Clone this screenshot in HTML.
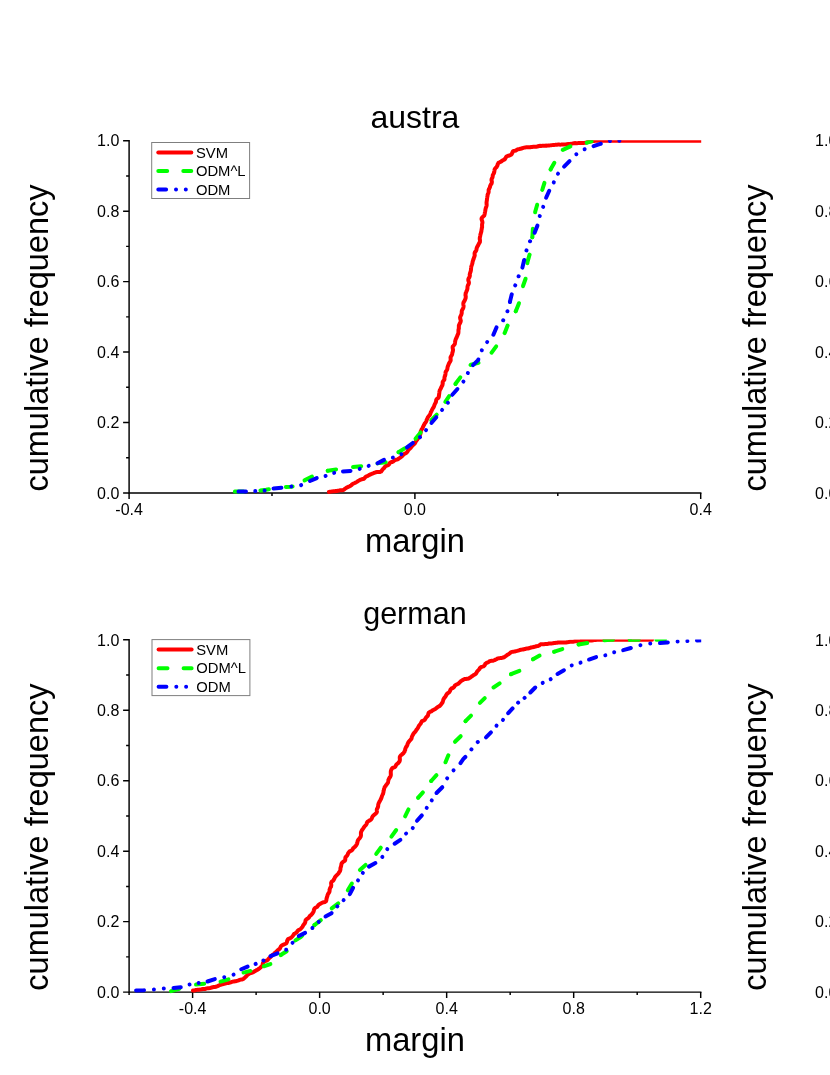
<!DOCTYPE html>
<html><head><meta charset="utf-8"><title>margin distribution</title>
<style>
html,body{margin:0;padding:0;background:#fff;}
body{width:830px;height:1075px;overflow:hidden;font-family:"Liberation Sans",sans-serif;}
svg{display:block;font-family:"Liberation Sans",sans-serif;will-change:transform;}
</style></head><body>
<svg width="830" height="1075" viewBox="0 0 830 1075">
<rect width="830" height="1075" fill="#fff"/>
<defs>
<clipPath id="c1"><rect x="129.10" y="140.30" width="572.10" height="356.30"/></clipPath>
<clipPath id="c2"><rect x="129.10" y="639.60" width="572.10" height="356.30"/></clipPath>
</defs>
<!-- plot 1: austra -->
<g stroke="#000" stroke-width="1.45" fill="none" stroke-linecap="butt">
<path d="M129.10,139.97 V493.73 M128.38,493.00 H701.43"/>
<path d="M129.10,493.00 h-6.00 M129.10,457.77 h-3.00 M129.10,422.54 h-6.00 M129.10,387.31 h-3.00 M129.10,352.08 h-6.00 M129.10,316.85 h-3.00 M129.10,281.62 h-6.00 M129.10,246.39 h-3.00 M129.10,211.16 h-6.00 M129.10,175.93 h-3.00 M129.10,140.70 h-6.00 M129.10,493.00 v6.00 M272.00,493.00 v3.00 M414.90,493.00 v6.00 M557.80,493.00 v3.00 M700.70,493.00 v6.00 "/>
</g>
<g font-size="16px" fill="#000">
<text x="119.30" y="498.73" text-anchor="end">0.0</text>
<text x="119.30" y="428.27" text-anchor="end">0.2</text>
<text x="119.30" y="357.81" text-anchor="end">0.4</text>
<text x="119.30" y="287.35" text-anchor="end">0.6</text>
<text x="119.30" y="216.89" text-anchor="end">0.8</text>
<text x="119.30" y="146.43" text-anchor="end">1.0</text>
<text x="129.10" y="515.00" text-anchor="middle">-0.4</text>
<text x="414.90" y="515.00" text-anchor="middle">0.0</text>
<text x="700.70" y="515.00" text-anchor="middle">0.4</text>
</g>
<g clip-path="url(#c1)" fill="none" stroke-width="4.0" stroke-linejoin="round">
<polyline points="328.90,491.90 329.89,491.77 330.88,491.62 331.86,491.42 332.86,491.32 333.85,491.16 334.86,491.16 335.85,491.00 336.85,490.99 337.83,490.78 338.83,490.64 339.80,490.35 340.80,490.27 341.79,490.17 342.80,490.15 343.73,489.86 344.42,489.24 345.17,488.61 346.05,488.10 346.93,487.59 347.77,487.05 348.69,486.66 349.60,486.31 350.48,485.85 351.29,485.22 352.03,484.48 352.85,483.89 353.72,483.38 354.66,483.03 355.58,482.63 356.44,482.10 357.28,481.54 358.11,480.98 359.00,480.54 359.86,480.07 360.75,479.63 361.71,479.28 362.77,479.08 363.76,478.79 364.56,478.18 365.20,477.32 365.95,476.62 366.86,476.20 367.85,475.89 368.68,475.33 369.56,474.85 370.47,474.42 371.38,474.10 372.17,473.63 373.10,473.29 374.04,472.90 374.99,472.55 375.95,472.24 376.94,472.10 377.95,472.04 378.97,472.04 380.08,472.04 381.11,471.56 381.69,470.66 382.33,469.88 382.93,469.08 383.69,468.42 384.33,467.64 384.95,466.85 385.63,466.13 386.43,465.62 387.43,465.47 388.34,465.04 389.08,464.32 389.63,463.25 390.35,462.47 391.27,462.07 392.34,461.93 393.25,461.52 394.03,460.85 394.79,460.16 395.73,459.80 396.76,459.60 397.73,459.28 398.59,458.77 399.39,458.14 400.25,457.63 401.05,457.02 401.85,456.41 402.53,455.67 403.20,454.92 403.87,454.18 404.74,453.64 405.64,453.14 406.55,452.65 407.25,451.93 407.76,451.01 408.29,450.11 408.94,449.34 409.74,448.73 410.49,448.08 411.06,447.25 411.68,446.46 412.29,445.67 413.10,445.04 413.80,444.32 414.63,443.70 415.13,442.82 415.64,441.94 416.08,441.01 416.71,440.24 417.32,439.44 417.87,438.60 418.37,437.73 418.90,436.95 419.30,436.09 419.81,435.21 420.27,434.32 420.46,433.32 420.67,432.34 420.71,431.29 421.16,430.39 421.58,429.47 422.33,428.68 422.68,427.74 423.06,426.81 423.49,425.90 423.98,425.02 424.39,424.17 424.79,423.31 425.49,422.57 425.99,421.70 426.46,420.81 426.70,419.77 427.19,418.90 427.58,417.95 428.06,417.07 428.61,416.24 429.38,415.55 430.00,414.75 430.28,413.77 430.63,412.83 430.95,411.88 431.52,411.03 431.88,410.10 432.36,409.22 432.83,408.33 433.45,407.51 433.92,406.63 434.25,405.68 434.56,404.73 434.95,403.82 435.46,402.95 435.88,402.04 436.06,401.02 436.22,399.98 436.67,399.09 437.62,398.44 438.43,397.72 438.82,396.80 438.91,395.72 439.05,394.69 439.19,393.69 439.35,392.70 439.40,391.67 439.67,390.71 440.00,389.76 440.57,388.88 440.96,387.96 441.46,387.06 441.79,386.11 442.38,385.25 442.60,384.27 442.77,383.28 442.60,382.18 443.11,381.29 443.74,380.44 444.41,379.60 444.41,378.55 444.52,377.54 444.67,376.54 445.17,375.65 445.37,374.66 445.51,373.65 445.53,372.61 445.79,371.64 446.37,370.78 446.95,369.91 447.35,368.99 447.45,367.97 447.61,366.97 447.96,366.04 448.32,365.10 448.74,364.18 449.08,363.24 449.66,362.38 450.15,361.48 450.66,360.59 450.65,359.54 450.60,358.47 450.50,357.39 450.96,356.49 451.50,355.61 452.00,354.72 452.26,353.75 452.34,352.73 452.71,351.80 452.88,350.80 453.08,349.82 452.74,348.66 452.63,347.58 452.70,346.55 453.43,345.75 454.13,344.92 454.75,344.05 454.95,343.06 455.07,342.06 455.23,341.07 455.44,340.09 455.79,339.15 456.20,338.22 456.69,337.31 457.02,336.37 457.46,335.45 457.77,334.49 458.27,333.58 458.41,332.57 458.46,331.55 458.45,330.53 458.53,329.52 458.87,328.57 458.83,327.53 458.88,326.52 458.87,325.49 459.25,324.55 459.69,323.62 460.22,322.72 460.64,321.79 460.80,320.80 460.52,319.71 460.23,318.62 460.07,317.56 460.37,316.61 460.74,315.67 461.29,314.76 461.56,313.79 461.73,312.81 461.71,311.78 461.84,310.79 462.25,309.85 462.75,308.93 463.30,308.02 463.47,307.04 463.60,306.04 463.44,304.99 463.31,303.94 463.40,302.94 463.74,301.98 464.38,301.10 464.82,300.17 465.22,299.23 465.60,298.28 465.71,297.28 465.75,296.27 465.47,295.19 465.57,294.19 465.68,293.19 466.13,292.26 466.48,291.31 466.94,290.39 467.26,289.43 467.45,288.45 467.48,287.43 467.55,286.43 467.83,285.46 468.35,284.55 468.82,283.62 468.94,282.62 468.74,281.56 468.32,280.46 468.33,279.45 468.56,278.47 469.28,277.59 469.61,276.63 469.86,275.66 469.71,274.62 469.92,273.64 470.19,272.67 470.60,271.74 470.79,270.76 470.97,269.78 471.01,268.76 471.14,267.76 471.23,266.75 471.54,265.79 471.89,264.85 472.22,263.90 472.45,262.93 472.57,261.93 472.84,260.96 473.19,260.02 473.55,259.08 473.83,258.12 474.15,257.17 474.51,256.24 474.75,255.27 474.59,254.17 474.59,253.13 474.95,252.19 475.67,251.37 476.24,250.49 476.49,249.52 476.59,248.51 476.91,247.56 477.29,246.63 477.91,245.78 478.21,244.84 478.82,243.99 479.18,243.06 479.84,242.23 479.96,241.21 479.98,240.16 479.75,239.02 479.79,237.97 479.96,237.02 480.18,236.11 480.32,235.12 480.61,234.15 480.85,233.16 481.16,232.19 481.40,231.21 481.45,230.21 481.68,229.23 481.77,228.23 482.11,227.26 482.07,226.26 482.06,225.27 482.08,224.26 482.34,223.30 482.46,222.30 482.24,221.21 481.80,220.07 481.53,218.97 481.73,217.99 482.47,217.14 483.38,216.34 484.21,215.51 484.54,214.57 484.77,213.59 484.88,212.59 485.11,211.62 485.31,210.64 485.42,209.64 485.64,208.67 485.87,207.69 486.28,206.75 486.57,205.78 486.65,204.78 486.61,203.76 486.52,202.73 486.64,201.73 486.80,200.74 486.94,199.75 487.00,198.75 487.18,197.77 487.32,196.77 487.58,195.80 487.60,194.79 488.00,193.84 488.38,192.90 488.65,191.93 488.65,190.90 488.62,189.86 489.10,188.95 489.49,188.02 489.95,187.10 490.10,186.11 490.57,185.19 490.96,184.26 491.64,183.40 491.84,182.42 491.86,181.39 491.50,180.27 491.55,179.24 492.06,178.35 492.50,177.44 492.67,176.44 492.73,175.40 493.12,174.48 493.66,173.61 494.08,172.69 494.30,171.71 494.45,170.70 494.56,169.68 495.02,168.74 495.65,167.90 496.53,167.25 496.94,166.34 497.46,165.48 497.62,164.42 498.17,163.59 498.58,162.61 499.66,162.30 500.53,161.84 501.47,161.45 502.14,160.63 503.03,160.17 503.90,159.67 504.86,159.28 505.40,158.33 505.90,157.37 506.44,156.47 507.40,156.05 508.43,155.71 509.53,155.45 510.46,155.01 511.31,154.60 511.90,153.78 512.40,152.67 512.85,151.50 513.67,150.92 514.75,150.77 515.80,150.57 516.63,150.00 517.46,149.40 518.47,149.16 519.47,149.00 520.45,148.79 521.41,148.50 522.38,148.26 523.30,147.87 524.25,147.60 525.23,147.43 526.23,147.37 527.23,147.34 528.24,147.36 529.24,147.30 530.24,147.20 531.22,147.03 532.22,146.92 533.21,146.81 534.21,146.76 535.22,146.73 536.22,146.70 537.21,146.53 538.18,146.22 539.16,145.96 540.16,145.84 541.17,145.88 542.16,145.83 543.16,145.79 544.16,145.66 545.16,145.69 546.16,145.62 547.16,145.63 548.16,145.53 549.16,145.48 550.16,145.38 551.15,145.25 552.14,145.12 553.14,144.99 554.14,144.91 555.13,144.85 556.13,144.76 557.13,144.65 558.12,144.59 559.13,144.59 560.13,144.64 561.13,144.59 562.13,144.50 563.13,144.44 564.13,144.45 565.14,144.44 566.13,144.32 567.12,144.14 568.11,144.01 569.11,143.94 570.11,143.90 571.11,143.84 572.10,143.61 573.08,143.36 574.07,143.15 575.07,143.11 576.08,143.17 577.08,143.14 578.08,143.07 579.07,142.94 580.07,142.94 581.08,142.97 582.10,143.02 583.10,142.97 584.10,142.89 585.08,142.70 586.06,142.43 587.03,142.12 588.01,141.92 589.00,141.82 589.99,141.64 590.97,141.42 591.95,141.20 592.95,141.09 593.95,140.98 594.94,140.84 595.94,140.74 596.94,140.69 597.94,140.63 598.94,140.61 599.94,140.56 600.95,140.70 601.95,140.70 602.95,140.70 603.95,140.70 604.95,140.70 605.95,140.70 606.95,140.70 607.95,140.70 608.95,140.70 609.95,140.70 610.96,140.70 611.96,140.70 612.96,140.70 613.96,140.70 614.96,140.70 615.96,140.70 616.96,140.70 617.96,140.70 618.96,140.70 619.96,140.70 620.96,140.70 621.96,140.70 622.96,140.70 623.96,140.70 624.96,140.70 625.96,140.70 626.96,140.70 627.96,140.70 628.96,140.70 629.96,140.70 630.97,140.70 631.97,140.70 632.97,140.70 633.97,140.70 634.97,140.70 635.97,140.70 636.97,140.70 637.97,140.70 638.97,140.70 639.97,140.70 640.97,140.70 641.97,140.70 642.97,140.70 643.97,140.70 644.97,140.70 645.97,140.70 646.97,140.70 647.97,140.70 648.97,140.70 649.97,140.70 650.98,140.70 651.98,140.70 652.98,140.70 653.98,140.70 654.98,140.70 655.98,140.70 656.98,140.70 657.98,140.70 658.98,140.70 659.98,140.70 660.98,140.70 661.98,140.70 662.98,140.70 663.98,140.70 664.98,140.70 665.98,140.70 666.98,140.70 667.98,140.70 668.98,140.70 669.98,140.70 670.98,140.70 671.99,140.70 672.99,140.70 673.99,140.70 674.99,140.70 675.99,140.70 676.99,140.70 677.99,140.70 678.99,140.70 679.99,140.70 680.99,140.70 681.99,140.70 682.99,140.70 683.99,140.70 684.99,140.70 685.99,140.70 686.99,140.70 687.99,140.70 688.99,140.70 689.99,140.70 690.99,140.70 692.00,140.70 693.00,140.70 694.00,140.70 695.00,140.70 696.00,140.70 697.00,140.70 698.00,140.70 699.00,140.70 700.00,140.70 701.00,140.70 702.00,140.70" stroke="#ff0000" stroke-linecap="round"/>
<polyline points="234.90,491.60 241.90,491.50 256.10,491.00 260.40,490.48" stroke="#00ff00" stroke-linecap="round" stroke-dasharray="8.5 17" pathLength="25.5"/>
<polyline points="260.40,490.48 266.00,489.80 283.40,487.10 285.90,486.97" stroke="#00ff00" stroke-linecap="round" stroke-dasharray="8.5 17" pathLength="25.5"/>
<polyline points="285.90,486.97 291.30,486.70 297.00,485.50 303.90,480.70 304.50,480.39" stroke="#00ff00" stroke-linecap="round" stroke-dasharray="8.5 17" pathLength="25.5"/>
<polyline points="304.50,480.39 313.30,475.90 326.00,470.90 327.70,470.65" stroke="#00ff00" stroke-linecap="round" stroke-dasharray="8.5 17" pathLength="25.5"/>
<polyline points="327.70,470.65 336.80,469.30 351.30,467.30 353.00,467.11" stroke="#00ff00" stroke-linecap="round" stroke-dasharray="8.5 17" pathLength="25.5"/>
<polyline points="353.00,467.11 362.10,466.10 376.60,463.50 377.50,463.38" stroke="#00ff00" stroke-linecap="round" stroke-dasharray="8.5 17" pathLength="25.5"/>
<polyline points="377.50,463.38 387.40,462.10 392.00,458.50 398.20,452.40 398.50,452.21" stroke="#00ff00" stroke-linecap="round" stroke-dasharray="8.5 17" pathLength="25.5"/>
<polyline points="398.50,452.21 406.20,447.30 415.40,438.90 415.50,438.78" stroke="#00ff00" stroke-linecap="round" stroke-dasharray="8.5 17" pathLength="25.5"/>
<polyline points="415.50,438.78 421.00,432.00 431.10,420.40 431.30,420.20" stroke="#00ff00" stroke-linecap="round" stroke-dasharray="8.5 17" pathLength="25.5"/>
<polyline points="431.30,420.20 437.30,414.10 445.30,401.90" stroke="#00ff00" stroke-linecap="round" stroke-dasharray="8.5 17" pathLength="25.5"/>
<polyline points="445.30,401.90 445.50,401.60 449.90,395.10 455.50,383.90" stroke="#00ff00" stroke-linecap="round" stroke-dasharray="8.5 17" pathLength="25.5"/>
<polyline points="455.50,383.90 455.70,383.50 461.40,376.00 466.00,369.00 470.50,364.97" stroke="#00ff00" stroke-linecap="round" stroke-dasharray="8.5 17" pathLength="25.5"/>
<polyline points="470.50,364.97 470.80,364.70 480.20,362.50 486.00,358.00 491.50,352.69" stroke="#00ff00" stroke-linecap="round" stroke-dasharray="8.5 17" pathLength="25.5"/>
<polyline points="491.50,352.69 491.80,352.40 497.10,345.20 504.60,333.12" stroke="#00ff00" stroke-linecap="round" stroke-dasharray="8.5 17" pathLength="25.5"/>
<polyline points="504.60,333.12 504.80,332.80 508.20,324.00 515.70,311.34" stroke="#00ff00" stroke-linecap="round" stroke-dasharray="8.5 17" pathLength="25.5"/>
<polyline points="515.70,311.34 515.90,311.00 519.90,300.90 523.00,286.18" stroke="#00ff00" stroke-linecap="round" stroke-dasharray="8.5 17" pathLength="25.5"/>
<polyline points="523.00,286.18 523.10,285.70 526.30,276.80 527.40,263.14" stroke="#00ff00" stroke-linecap="round" stroke-dasharray="8.5 17" pathLength="25.5"/>
<polyline points="527.40,263.14 527.50,261.90 530.40,251.70 532.30,237.17" stroke="#00ff00" stroke-linecap="round" stroke-dasharray="8.5 17" pathLength="25.5"/>
<polyline points="532.30,237.17 532.40,236.40 533.00,226.00 535.10,212.35" stroke="#00ff00" stroke-linecap="round" stroke-dasharray="8.5 17" pathLength="25.5"/>
<polyline points="535.10,212.35 535.20,211.70 538.10,201.60 542.20,189.87" stroke="#00ff00" stroke-linecap="round" stroke-dasharray="8.5 17" pathLength="25.5"/>
<polyline points="542.20,189.87 542.40,189.30 545.60,179.20 550.60,169.39" stroke="#00ff00" stroke-linecap="round" stroke-dasharray="8.5 17" pathLength="25.5"/>
<polyline points="550.60,169.39 550.80,169.00 555.70,160.40 562.70,149.95" stroke="#00ff00" stroke-linecap="round" stroke-dasharray="8.5 17" pathLength="25.5"/>
<polyline points="562.70,149.95 562.80,149.80 573.20,145.20 586.80,142.70" stroke="#00ff00" stroke-linecap="round" stroke-dasharray="8.5 17" pathLength="25.5"/>
<polyline points="586.80,142.70 586.80,142.70 591.50,141.30" stroke="#00ff00" stroke-linecap="round" stroke-dasharray="8.5 17"/>
<polyline points="238.50,491.60 245.90,491.50 256.10,491.00 266.00,490.40 272.60,488.60 273.50,488.52" stroke="#0000ff" stroke-linecap="round" stroke-dasharray="7.6 9.5 0.01 9.5 0.01 9.3" pathLength="35.92"/>
<polyline points="273.50,488.52 283.40,487.60 291.90,486.50 301.10,485.10 309.30,481.30 310.00,481.00" stroke="#0000ff" stroke-linecap="round" stroke-dasharray="7.6 9.5 0.01 9.5 0.01 9.3" pathLength="35.92"/>
<polyline points="310.00,481.00 317.30,477.90 325.20,476.10 332.80,473.10 341.90,471.50 343.00,471.42" stroke="#0000ff" stroke-linecap="round" stroke-dasharray="7.6 9.5 0.01 9.5 0.01 9.3" pathLength="35.92"/>
<polyline points="343.00,471.42 352.00,470.80 359.20,469.00 367.90,466.10 377.30,463.30 377.50,463.20" stroke="#0000ff" stroke-linecap="round" stroke-dasharray="7.6 9.5 0.01 9.5 0.01 9.3" pathLength="35.92"/>
<polyline points="377.50,463.20 384.50,459.60 393.20,457.50 402.20,453.90 406.90,447.30" stroke="#0000ff" stroke-linecap="round" stroke-dasharray="7.6 9.5 0.01 9.5 0.01 9.3" pathLength="35.92"/>
<polyline points="406.90,447.30 406.90,447.30 412.70,443.00 420.20,437.00 426.00,430.20 431.50,422.90" stroke="#0000ff" stroke-linecap="round" stroke-dasharray="7.6 9.5 0.01 9.5 0.01 9.3" pathLength="35.92"/>
<polyline points="431.50,422.90 431.80,422.50 436.10,417.50 441.60,410.50 447.40,403.70 452.00,395.10 452.30,394.76" stroke="#0000ff" stroke-linecap="round" stroke-dasharray="7.6 9.5 0.01 9.5 0.01 9.3" pathLength="35.92"/>
<polyline points="452.30,394.76 457.80,388.60 463.90,380.90 467.90,372.90 473.00,365.10" stroke="#0000ff" stroke-linecap="round" stroke-dasharray="7.6 9.5 0.01 9.5 0.01 9.3" pathLength="35.92"/>
<polyline points="473.00,365.10 473.00,365.10 478.10,360.10 482.00,349.80 486.70,342.60 493.30,335.00 493.40,334.76" stroke="#0000ff" stroke-linecap="round" stroke-dasharray="7.6 9.5 0.01 9.5 0.01 9.3" pathLength="35.92"/>
<polyline points="493.40,334.76 496.70,326.90 502.90,320.90 507.20,312.20 509.80,302.30 509.90,301.89" stroke="#0000ff" stroke-linecap="round" stroke-dasharray="7.6 9.5 0.01 9.5 0.01 9.3" pathLength="35.92"/>
<polyline points="509.90,301.89 511.90,293.70 515.20,285.40 518.40,276.80 522.40,267.60" stroke="#0000ff" stroke-linecap="round" stroke-dasharray="7.6 9.5 0.01 9.5 0.01 9.3" pathLength="35.92"/>
<polyline points="522.40,267.60 522.40,267.60 524.30,259.40 526.50,250.30 529.90,241.60 534.60,232.80" stroke="#0000ff" stroke-linecap="round" stroke-dasharray="7.6 9.5 0.01 9.5 0.01 9.3" pathLength="35.92"/>
<polyline points="534.60,232.80 534.60,232.80 537.60,225.20 539.50,216.70 542.80,208.10 546.00,198.00 546.10,197.78" stroke="#0000ff" stroke-linecap="round" stroke-dasharray="7.6 9.5 0.01 9.5 0.01 9.3" pathLength="35.92"/>
<polyline points="546.10,197.78 549.60,190.00 553.70,182.50 557.90,173.80 564.00,166.70 564.10,166.60" stroke="#0000ff" stroke-linecap="round" stroke-dasharray="7.6 9.5 0.01 9.5 0.01 9.3" pathLength="35.92"/>
<polyline points="564.10,166.60 569.70,160.90 575.30,154.90 583.90,149.50 593.60,146.20" stroke="#0000ff" stroke-linecap="round" stroke-dasharray="7.6 9.5 0.01 9.5 0.01 9.3" pathLength="35.92"/>
<polyline points="593.60,146.20 593.60,146.20 600.30,143.90 609.90,141.00 622.00,140.70" stroke="#0000ff" stroke-linecap="round" stroke-dasharray="7.6 9.5 0.01 9.5 0.01 9.3"/>
</g>
<text x="414.90" y="127.6" font-size="32px" text-anchor="middle">austra</text>
<text x="414.90" y="551.8" font-size="32.7px" text-anchor="middle">margin</text>
<text transform="translate(48.20,338.00) rotate(-90)" font-size="32.5px" text-anchor="middle">cumulative frequency</text>
<rect x="151.70" y="142.50" width="97.9" height="56.0" fill="#fff" stroke="#7f7f7f" stroke-width="1"/>
<g fill="none" stroke-width="4.0" stroke-linecap="round">
<path d="M158.30,152.50 H191.30" stroke="#ff0000"/>
<path d="M158.30,171.05 h8.9 M183.30,171.05 H191.30" stroke="#00ff00"/>
<path d="M158.30,189.60 h7.8 m9.9,0 h0.01 m9.8,0 h0.01" stroke="#0000ff"/>
</g>
<g font-size="14.8px" fill="#000">
<text x="195.90" y="157.50">SVM</text>
<text x="195.90" y="176.05">ODM^L</text>
<text x="195.90" y="194.60">ODM</text>
</g>
<!-- plot 2: german -->
<g stroke="#000" stroke-width="1.45" fill="none" stroke-linecap="butt">
<path d="M129.10,639.07 V992.83 M128.38,992.10 H701.43"/>
<path d="M129.10,992.10 h-6.00 M129.10,956.87 h-3.00 M129.10,921.64 h-6.00 M129.10,886.41 h-3.00 M129.10,851.18 h-6.00 M129.10,815.95 h-3.00 M129.10,780.72 h-6.00 M129.10,745.49 h-3.00 M129.10,710.26 h-6.00 M129.10,675.03 h-3.00 M129.10,639.80 h-6.00 M129.10,992.10 v3.00 M192.61,992.10 v6.00 M256.12,992.10 v3.00 M319.63,992.10 v6.00 M383.14,992.10 v3.00 M446.66,992.10 v6.00 M510.17,992.10 v3.00 M573.68,992.10 v6.00 M637.19,992.10 v3.00 M700.70,992.10 v6.00 "/>
</g>
<g font-size="16px" fill="#000">
<text x="119.30" y="997.83" text-anchor="end">0.0</text>
<text x="119.30" y="927.37" text-anchor="end">0.2</text>
<text x="119.30" y="856.91" text-anchor="end">0.4</text>
<text x="119.30" y="786.45" text-anchor="end">0.6</text>
<text x="119.30" y="715.99" text-anchor="end">0.8</text>
<text x="119.30" y="645.53" text-anchor="end">1.0</text>
<text x="192.61" y="1014.10" text-anchor="middle">-0.4</text>
<text x="319.63" y="1014.10" text-anchor="middle">0.0</text>
<text x="446.66" y="1014.10" text-anchor="middle">0.4</text>
<text x="573.68" y="1014.10" text-anchor="middle">0.8</text>
<text x="700.70" y="1014.10" text-anchor="middle">1.2</text>
</g>
<g clip-path="url(#c2)" fill="none" stroke-width="4.0" stroke-linejoin="round">
<polyline points="193.00,990.60 193.99,990.46 194.97,990.25 195.95,989.99 196.94,989.86 197.94,989.76 198.94,989.73 199.94,989.61 200.92,989.43 201.90,989.19 202.89,989.03 203.89,988.99 204.90,988.95 205.88,988.76 206.81,988.39 207.80,988.21 208.83,988.19 209.83,988.08 210.79,987.79 211.73,987.43 212.71,987.22 213.70,987.06 214.71,986.97 215.69,986.76 216.65,986.49 217.59,986.11 218.52,985.69 219.43,985.24 220.37,984.89 221.31,984.53 222.27,984.28 223.23,983.98 224.20,983.74 225.17,983.49 226.16,983.29 227.15,983.13 228.13,982.93 229.11,982.75 230.07,982.43 231.04,982.20 231.99,981.85 232.96,981.60 233.95,981.45 234.95,981.32 235.94,981.19 236.90,980.89 237.86,980.61 238.81,980.25 239.76,979.95 240.63,979.67 241.61,979.44 242.69,979.21 243.60,978.75 244.32,978.05 245.08,977.40 245.79,976.67 246.54,976.01 247.20,975.22 247.90,974.47 248.76,973.94 249.65,973.47 250.61,973.15 251.55,972.79 252.53,972.51 253.44,972.08 254.29,971.56 255.14,971.02 256.01,970.51 256.86,969.98 257.77,969.57 258.58,969.00 259.42,968.39 260.21,967.75 260.95,967.07 261.72,966.42 262.28,965.57 262.66,964.58 262.85,963.42 263.32,962.44 263.99,961.59 264.96,961.19 265.92,960.78 266.99,960.52 267.79,959.92 268.37,959.05 269.02,958.27 269.71,957.56 270.56,957.01 271.19,956.22 271.88,955.49 272.64,954.84 273.46,954.25 274.27,953.64 274.90,952.86 275.69,952.23 276.37,951.49 277.17,950.88 277.81,950.11 278.70,949.58 279.46,948.92 280.10,948.14 280.48,947.11 280.98,946.20 281.75,945.56 282.67,945.06 283.61,944.58 284.58,944.16 285.53,943.72 286.42,943.21 286.88,942.24 287.20,941.11 287.45,939.90 288.09,939.12 289.05,938.68 290.05,938.30 290.95,937.80 291.69,937.11 292.40,936.41 293.00,935.59 293.56,934.73 294.15,933.89 295.07,933.40 295.92,932.85 296.78,932.31 297.27,931.37 297.92,930.59 298.69,929.96 299.67,929.54 300.56,929.04 301.23,928.29 301.88,927.52 302.53,926.72 302.97,925.83 303.41,924.93 304.05,924.13 304.75,923.36 305.20,922.47 305.39,921.46 305.57,920.38 306.23,919.58 306.97,918.90 307.94,918.46 308.65,917.75 309.25,916.94 309.76,916.03 310.53,915.40 311.33,914.82 311.99,914.05 312.57,913.23 313.12,912.40 313.58,911.51 313.83,910.49 314.05,909.46 314.48,908.55 315.21,907.76 316.26,907.37 317.11,906.83 317.78,906.06 318.34,905.14 319.06,904.44 319.94,903.95 320.82,903.44 321.71,902.96 322.63,902.52 323.73,902.31 324.82,902.08 325.89,901.41 326.38,900.23 326.44,899.13 326.73,898.16 326.95,897.15 327.35,896.23 327.52,895.20 327.91,894.28 328.38,893.39 329.07,892.61 329.45,891.68 329.62,890.68 329.55,889.62 329.91,888.68 330.25,887.74 330.91,886.89 331.16,885.92 331.30,884.92 331.14,883.83 331.13,882.79 331.60,881.78 332.49,881.07 333.36,880.48 333.86,879.59 334.31,878.65 334.73,877.69 335.23,876.81 335.82,876.17 336.41,875.48 337.27,874.78 337.97,874.00 338.62,873.19 339.10,872.31 339.76,871.51 340.18,870.60 340.41,869.61 340.42,868.51 340.62,867.50 340.99,866.56 341.18,865.54 341.37,864.51 341.58,863.50 342.14,862.66 342.93,861.94 343.98,861.35 344.89,860.68 345.27,859.76 345.28,858.64 345.41,857.53 346.00,856.72 346.72,855.99 347.34,855.21 347.78,854.29 348.12,853.25 348.75,852.43 349.35,851.62 350.28,851.11 351.29,850.67 352.10,850.06 352.74,849.29 353.15,848.30 353.90,847.64 354.68,846.99 355.39,846.28 356.02,845.50 356.59,844.69 357.05,843.81 357.30,842.83 357.50,841.83 357.71,840.83 358.20,839.95 358.79,839.11 359.54,838.33 360.14,837.50 360.70,836.64 360.93,835.66 360.95,834.59 360.91,833.49 360.95,832.43 361.30,831.49 361.74,830.57 362.36,829.74 362.91,828.88 363.49,828.06 363.97,827.18 364.58,826.38 365.33,825.65 366.06,824.91 366.51,824.09 366.81,823.10 367.24,822.14 367.91,821.40 368.82,820.87 369.80,820.39 370.67,819.82 371.38,819.11 371.86,818.21 372.19,817.17 372.72,816.30 373.36,815.53 374.18,814.92 374.91,814.22 375.71,813.60 376.52,812.85 376.94,811.81 376.84,810.67 376.81,809.59 377.08,808.62 377.66,807.77 378.03,806.84 378.19,805.83 378.23,804.78 378.49,803.81 378.81,802.86 379.32,802.00 379.76,801.10 380.30,800.22 380.79,799.32 381.20,798.40 381.56,797.46 381.79,796.49 382.19,795.56 382.56,794.63 383.12,793.76 383.28,792.76 383.55,791.80 383.52,790.76 383.95,789.88 384.07,788.79 384.43,787.84 384.74,786.86 385.48,786.14 385.98,785.27 386.61,784.48 387.20,783.68 387.82,782.89 388.07,781.92 388.26,780.92 388.42,779.92 388.90,779.03 389.29,778.10 389.94,777.27 390.39,776.36 390.78,775.44 390.84,774.40 390.78,773.33 390.77,772.27 390.82,771.23 391.09,770.26 391.49,769.34 392.05,768.40 392.97,767.72 394.06,767.40 394.98,766.94 395.63,766.16 396.03,765.09 396.69,764.32 397.40,763.71 398.24,763.10 398.82,762.27 399.45,761.45 399.79,760.51 399.90,759.46 399.78,758.29 399.76,757.14 400.19,756.22 400.80,755.41 401.68,754.74 402.41,754.00 403.32,753.35 403.85,752.49 404.50,751.71 404.74,750.70 405.22,749.83 405.29,748.73 405.72,747.82 406.15,746.92 406.83,746.15 407.26,745.25 407.49,744.23 407.88,743.30 408.33,742.40 408.98,741.62 409.53,740.78 410.35,740.09 411.01,739.32 411.56,738.47 411.71,737.41 412.03,736.45 412.44,735.53 413.00,734.69 413.40,733.77 414.03,732.98 414.77,732.24 415.39,731.47 415.97,730.70 416.43,729.79 417.17,729.10 417.66,728.21 418.22,727.38 418.59,726.40 419.10,725.53 419.74,724.76 420.42,724.02 420.96,723.17 421.32,722.18 421.84,721.32 422.77,720.78 423.86,720.35 424.73,719.76 425.30,718.94 425.69,717.98 426.32,717.19 427.05,716.50 427.78,715.79 428.14,714.81 428.35,713.68 428.82,712.64 429.67,712.06 430.57,711.58 431.58,711.27 432.33,710.60 433.20,710.10 434.04,709.54 435.02,709.18 435.83,708.60 436.59,707.93 437.37,707.31 438.25,706.82 439.14,706.34 439.99,705.76 440.71,704.97 441.30,704.09 441.88,703.27 442.48,702.46 442.82,701.50 443.12,700.51 443.37,699.49 443.88,698.63 444.39,697.77 445.14,697.05 445.67,696.20 446.15,695.33 446.61,694.38 447.26,693.63 448.02,692.97 448.94,692.47 449.53,691.64 450.09,690.79 450.38,689.66 451.09,688.96 451.78,688.24 452.94,687.98 453.69,687.31 454.38,686.59 454.87,685.67 455.65,685.03 456.59,684.55 457.54,684.09 458.44,683.62 459.09,682.96 459.84,682.28 460.57,681.45 461.40,680.85 462.26,680.32 463.15,679.86 464.02,679.34 464.96,678.99 466.00,678.89 467.05,678.79 468.12,678.74 469.04,678.35 469.92,677.86 470.71,677.16 471.50,676.66 472.16,676.12 472.98,675.56 473.82,674.96 474.79,674.49 475.64,673.91 476.31,673.16 476.72,672.19 477.25,671.32 477.95,670.60 478.67,669.90 479.38,669.20 479.79,668.21 480.53,667.50 481.31,666.88 482.39,666.68 483.42,666.40 484.20,665.77 484.84,664.94 485.32,663.88 486.10,663.24 486.94,662.69 487.92,662.36 488.75,661.79 489.60,661.16 490.63,660.97 491.65,660.86 492.71,660.86 493.64,660.50 494.57,660.11 495.47,659.66 496.38,659.23 497.26,658.72 498.19,658.35 499.20,658.18 500.20,658.10 501.18,657.95 502.17,657.77 503.14,657.55 503.97,657.25 504.76,656.75 505.60,656.19 506.42,655.61 507.18,654.95 508.02,654.41 508.92,653.92 509.76,653.36 510.43,652.69 511.20,652.13 512.15,651.86 513.15,651.71 514.15,651.59 515.14,651.44 516.10,651.16 517.07,650.91 518.03,650.61 518.99,650.31 519.93,649.96 520.92,649.78 521.91,649.61 522.92,649.56 523.88,649.28 524.86,649.05 525.81,648.74 526.81,648.60 527.81,648.51 528.78,648.25 529.74,647.97 530.68,647.57 531.67,647.43 532.65,647.19 533.63,647.02 534.58,646.66 535.57,646.49 536.49,646.21 537.51,646.11 538.46,645.78 539.38,645.36 540.12,644.60 541.07,644.24 542.08,644.17 543.08,644.14 544.09,644.14 545.09,644.08 546.09,644.07 547.09,643.94 548.08,643.78 549.06,643.53 550.06,643.47 551.06,643.43 552.06,643.39 553.05,643.22 554.04,643.08 555.04,642.96 556.03,642.86 557.02,642.68 558.01,642.52 559.01,642.48 560.02,642.49 561.03,642.54 562.03,642.53 563.03,642.56 564.04,642.59 565.04,642.53 566.04,642.49 567.03,642.31 568.02,642.16 569.01,641.93 570.01,641.84 571.01,641.80 572.01,641.82 573.00,641.67 573.99,641.49 574.98,641.31 575.98,641.25 576.99,641.25 577.99,641.28 578.99,641.25 579.99,641.13 580.98,640.93 581.98,640.89 582.98,640.91 583.99,640.95 584.98,640.80 585.98,640.72 586.98,640.68 587.98,640.67 588.97,640.52 589.97,640.42 590.97,640.42 591.98,640.44 592.97,640.35 593.96,640.11 594.96,639.97 595.95,639.88 596.95,639.84 597.95,639.75 598.95,639.74 599.96,639.79 600.96,639.80 601.96,639.80 602.96,639.80 603.96,639.80 604.96,639.80 605.96,639.80 606.96,639.80 607.96,639.80 608.97,639.80 609.97,639.80 610.97,639.80 611.97,639.80 612.97,639.80 613.97,639.80 614.97,639.80 615.97,639.80 616.97,639.80 617.97,639.80 618.97,639.80 619.97,639.80 620.98,639.80 621.98,639.80 622.98,639.80 623.98,639.80 624.98,639.80 625.98,639.80 626.98,639.80 627.98,639.80 628.98,639.80 629.98,639.80 630.98,639.80 631.98,639.80 632.98,639.80 633.99,639.80 634.99,639.80 635.99,639.80 636.99,639.80 637.99,639.80 638.99,639.80 639.99,639.80 640.99,639.80 641.99,639.80 642.99,639.80 643.99,639.80 644.99,639.80 646.00,639.80 647.00,639.80 648.00,639.80 649.00,639.80 650.00,639.80 651.00,639.80 652.00,639.80" stroke="#ff0000" stroke-linecap="round"/>
<polyline points="171.00,991.20 181.00,988.20 194.40,984.60 196.00,984.46" stroke="#00ff00" stroke-linecap="round" stroke-dasharray="8.5 17" pathLength="25.5"/>
<polyline points="196.00,984.46 206.00,983.60 219.50,982.00 220.50,981.70" stroke="#00ff00" stroke-linecap="round" stroke-dasharray="8.5 17" pathLength="25.5"/>
<polyline points="220.50,981.70 230.10,978.80 236.00,976.00 242.60,972.80 243.50,972.58" stroke="#00ff00" stroke-linecap="round" stroke-dasharray="8.5 17" pathLength="25.5"/>
<polyline points="243.50,972.58 252.20,970.50 262.80,966.60 263.80,966.27" stroke="#00ff00" stroke-linecap="round" stroke-dasharray="8.5 17" pathLength="25.5"/>
<polyline points="263.80,966.27 271.50,963.70 276.00,959.00 280.80,955.05" stroke="#00ff00" stroke-linecap="round" stroke-dasharray="8.5 17" pathLength="25.5"/>
<polyline points="280.80,955.05 281.10,954.80 288.90,949.80 295.40,940.40" stroke="#00ff00" stroke-linecap="round" stroke-dasharray="8.5 17" pathLength="25.5"/>
<polyline points="295.40,940.40 295.40,940.40 301.10,936.70 308.00,931.00 314.20,925.20 314.40,925.05" stroke="#00ff00" stroke-linecap="round" stroke-dasharray="8.5 17" pathLength="25.5"/>
<polyline points="314.40,925.05 322.80,918.70 331.50,908.50 331.70,908.35" stroke="#00ff00" stroke-linecap="round" stroke-dasharray="8.5 17" pathLength="25.5"/>
<polyline points="331.70,908.35 340.20,902.00 347.70,890.50 347.80,890.33" stroke="#00ff00" stroke-linecap="round" stroke-dasharray="8.5 17" pathLength="25.5"/>
<polyline points="347.80,890.33 352.50,882.50 359.70,870.20 359.90,870.02" stroke="#00ff00" stroke-linecap="round" stroke-dasharray="8.5 17" pathLength="25.5"/>
<polyline points="359.90,870.02 366.90,863.70 376.20,853.90" stroke="#00ff00" stroke-linecap="round" stroke-dasharray="8.5 17" pathLength="25.5"/>
<polyline points="376.20,853.90 376.20,853.90 382.40,845.50 391.30,836.80 391.40,836.66" stroke="#00ff00" stroke-linecap="round" stroke-dasharray="8.5 17" pathLength="25.5"/>
<polyline points="391.40,836.66 397.80,827.80 405.10,816.30" stroke="#00ff00" stroke-linecap="round" stroke-dasharray="8.5 17" pathLength="25.5"/>
<polyline points="405.10,816.30 405.10,816.30 409.40,807.60 418.10,797.80 418.20,797.69" stroke="#00ff00" stroke-linecap="round" stroke-dasharray="8.5 17" pathLength="25.5"/>
<polyline points="418.20,797.69 424.60,790.50 431.10,781.10 431.20,780.99" stroke="#00ff00" stroke-linecap="round" stroke-dasharray="8.5 17" pathLength="25.5"/>
<polyline points="431.20,780.99 437.60,773.90 445.50,762.30" stroke="#00ff00" stroke-linecap="round" stroke-dasharray="8.5 17" pathLength="25.5"/>
<polyline points="445.50,762.30 445.50,762.30 449.10,753.50 454.80,742.00 455.00,741.80" stroke="#00ff00" stroke-linecap="round" stroke-dasharray="8.5 17" pathLength="25.5"/>
<polyline points="455.00,741.80 461.50,735.40 465.40,721.30 465.50,721.20" stroke="#00ff00" stroke-linecap="round" stroke-dasharray="8.5 17" pathLength="25.5"/>
<polyline points="465.50,721.20 472.10,714.60 479.80,703.00 479.90,702.90" stroke="#00ff00" stroke-linecap="round" stroke-dasharray="8.5 17" pathLength="25.5"/>
<polyline points="479.90,702.90 485.60,697.20 493.30,687.60 493.50,687.47" stroke="#00ff00" stroke-linecap="round" stroke-dasharray="8.5 17" pathLength="25.5"/>
<polyline points="493.50,687.47 502.00,681.80 511.00,674.20" stroke="#00ff00" stroke-linecap="round" stroke-dasharray="8.5 17" pathLength="25.5"/>
<polyline points="511.00,674.20 511.00,674.20 521.40,670.10 532.80,659.40 533.00,659.29" stroke="#00ff00" stroke-linecap="round" stroke-dasharray="8.5 17" pathLength="25.5"/>
<polyline points="533.00,659.29 540.00,655.40 554.20,651.65" stroke="#00ff00" stroke-linecap="round" stroke-dasharray="8.5 17" pathLength="25.5"/>
<polyline points="554.20,651.65 554.40,651.60 564.50,648.50 578.40,644.50 578.60,644.47" stroke="#00ff00" stroke-linecap="round" stroke-dasharray="8.5 17" pathLength="25.5"/>
<polyline points="578.60,644.47 588.60,642.80 602.50,640.40 604.50,640.24" stroke="#00ff00" stroke-linecap="round" stroke-dasharray="8.5 17" pathLength="25.5"/>
<polyline points="604.50,640.24 610.00,639.80 629.80,639.80" stroke="#00ff00" stroke-linecap="round" stroke-dasharray="8.5 17" pathLength="25.5"/>
<polyline points="629.80,639.80 656.40,639.80" stroke="#00ff00" stroke-linecap="round" stroke-dasharray="8.5 17" pathLength="25.5"/>
<polyline points="656.40,639.80 666.00,639.80" stroke="#00ff00" stroke-linecap="round" stroke-dasharray="8.5 17"/>
<polyline points="136.10,990.50 143.80,990.30 153.40,989.50 163.30,988.50 173.50,988.10" stroke="#0000ff" stroke-linecap="round" stroke-dasharray="7.6 9.5 0.01 9.5 0.01 9.3" pathLength="35.92"/>
<polyline points="173.50,988.10 173.50,988.10 180.90,987.20 189.10,984.60 198.70,983.00 206.90,981.70 207.50,981.50" stroke="#0000ff" stroke-linecap="round" stroke-dasharray="7.6 9.5 0.01 9.5 0.01 9.3" pathLength="35.92"/>
<polyline points="207.50,981.50 215.60,978.80 224.30,977.20 233.50,974.70 240.70,969.50 241.30,969.24" stroke="#0000ff" stroke-linecap="round" stroke-dasharray="7.6 9.5 0.01 9.5 0.01 9.3" pathLength="35.92"/>
<polyline points="241.30,969.24 248.40,966.20 253.80,964.70 262.30,961.20 270.00,956.30 270.50,956.10" stroke="#0000ff" stroke-linecap="round" stroke-dasharray="7.6 9.5 0.01 9.5 0.01 9.3" pathLength="35.92"/>
<polyline points="270.50,956.10 278.60,952.90 286.70,949.50 291.50,944.00 298.30,936.30 298.80,936.05" stroke="#0000ff" stroke-linecap="round" stroke-dasharray="7.6 9.5 0.01 9.5 0.01 9.3" pathLength="35.92"/>
<polyline points="298.80,936.05 305.50,932.70 312.00,928.40 318.20,922.30 325.00,916.80 325.50,916.52" stroke="#0000ff" stroke-linecap="round" stroke-dasharray="7.6 9.5 0.01 9.5 0.01 9.3" pathLength="35.92"/>
<polyline points="325.50,916.52 331.50,913.20 335.40,908.30 342.60,901.00 349.60,894.50 349.80,894.12" stroke="#0000ff" stroke-linecap="round" stroke-dasharray="7.6 9.5 0.01 9.5 0.01 9.3" pathLength="35.92"/>
<polyline points="349.80,894.12 353.20,887.60 359.00,878.90 363.30,872.10 368.40,866.90 368.90,866.63" stroke="#0000ff" stroke-linecap="round" stroke-dasharray="7.6 9.5 0.01 9.5 0.01 9.3" pathLength="35.92"/>
<polyline points="368.90,866.63 376.30,862.60 382.80,856.50 387.30,849.10 394.20,844.00 394.60,843.74" stroke="#0000ff" stroke-linecap="round" stroke-dasharray="7.6 9.5 0.01 9.5 0.01 9.3" pathLength="35.92"/>
<polyline points="394.60,843.74 400.70,839.70 404.60,834.60 412.30,828.90 416.60,821.20 417.00,820.76" stroke="#0000ff" stroke-linecap="round" stroke-dasharray="7.6 9.5 0.01 9.5 0.01 9.3" pathLength="35.92"/>
<polyline points="417.00,820.76 422.40,814.80 426.70,807.90 432.10,799.90 436.10,793.40 436.50,793.00" stroke="#0000ff" stroke-linecap="round" stroke-dasharray="7.6 9.5 0.01 9.5 0.01 9.3" pathLength="35.92"/>
<polyline points="436.50,793.00 442.60,786.90 447.00,778.50 452.80,771.00 460.00,763.80 460.50,763.08" stroke="#0000ff" stroke-linecap="round" stroke-dasharray="7.6 9.5 0.01 9.5 0.01 9.3" pathLength="35.92"/>
<polyline points="460.50,763.08 463.40,758.90 466.30,756.00 470.80,750.20 476.00,743.10 485.60,737.70 486.00,737.30" stroke="#0000ff" stroke-linecap="round" stroke-dasharray="7.6 9.5 0.01 9.5 0.01 9.3" pathLength="35.92"/>
<polyline points="486.00,737.30 492.30,731.00 497.20,724.80 502.60,720.40 507.80,713.60 508.20,713.17" stroke="#0000ff" stroke-linecap="round" stroke-dasharray="7.6 9.5 0.01 9.5 0.01 9.3" pathLength="35.92"/>
<polyline points="508.20,713.17 513.60,707.30 518.20,702.60 524.10,698.30 530.20,692.60 530.30,692.50" stroke="#0000ff" stroke-linecap="round" stroke-dasharray="7.6 9.5 0.01 9.5 0.01 9.3" pathLength="35.92"/>
<polyline points="530.30,692.50 535.50,687.30 542.70,682.90 550.40,679.40 556.90,674.30 557.50,673.96" stroke="#0000ff" stroke-linecap="round" stroke-dasharray="7.6 9.5 0.01 9.5 0.01 9.3" pathLength="35.92"/>
<polyline points="557.50,673.96 565.80,669.30 571.60,665.50 579.70,663.00 588.60,659.70 589.00,659.56" stroke="#0000ff" stroke-linecap="round" stroke-dasharray="7.6 9.5 0.01 9.5 0.01 9.3" pathLength="35.92"/>
<polyline points="589.00,659.56 597.40,656.60 605.00,655.40 613.90,652.30 622.70,650.30 623.20,650.16" stroke="#0000ff" stroke-linecap="round" stroke-dasharray="7.6 9.5 0.01 9.5 0.01 9.3" pathLength="35.92"/>
<polyline points="623.20,650.16 631.60,647.80 640.40,645.20 649.80,643.50 659.40,643.10 660.00,643.05" stroke="#0000ff" stroke-linecap="round" stroke-dasharray="7.6 9.5 0.01 9.5 0.01 9.3" pathLength="35.92"/>
<polyline points="660.00,643.05 667.00,642.50 677.10,641.50 687.20,641.10 695.00,640.50 697.00,640.44" stroke="#0000ff" stroke-linecap="round" stroke-dasharray="7.6 9.5 0.01 9.5 0.01 9.3" pathLength="35.92"/>
<polyline points="697.00,640.44 702.00,640.30" stroke="#0000ff" stroke-linecap="round" stroke-dasharray="7.6 9.5 0.01 9.5 0.01 9.3"/>
</g>
<text x="414.90" y="624.4" font-size="30.5px" text-anchor="middle">german</text>
<text x="414.90" y="1050.9" font-size="32.7px" text-anchor="middle">margin</text>
<text transform="translate(48.20,837.10) rotate(-90)" font-size="32.5px" text-anchor="middle">cumulative frequency</text>
<rect x="152.00" y="639.60" width="97.9" height="56.0" fill="#fff" stroke="#7f7f7f" stroke-width="1"/>
<g fill="none" stroke-width="4.0" stroke-linecap="round">
<path d="M158.60,649.60 H191.60" stroke="#ff0000"/>
<path d="M158.60,668.15 h8.9 M183.60,668.15 H191.60" stroke="#00ff00"/>
<path d="M158.60,686.70 h7.8 m9.9,0 h0.01 m9.8,0 h0.01" stroke="#0000ff"/>
</g>
<g font-size="14.8px" fill="#000">
<text x="196.20" y="654.60">SVM</text>
<text x="196.20" y="673.15">ODM^L</text>
<text x="196.20" y="691.70">ODM</text>
</g>
<!-- right-hand (clipped) plots -->
<g stroke="#000" stroke-width="1.45" fill="none" stroke-linecap="butt">
<path d="M847.10,139.97 V493.73 M846.38,493.00 H1419.42"/>
<path d="M847.10,493.00 h-6.00 M847.10,457.77 h-3.00 M847.10,422.54 h-6.00 M847.10,387.31 h-3.00 M847.10,352.08 h-6.00 M847.10,316.85 h-3.00 M847.10,281.62 h-6.00 M847.10,246.39 h-3.00 M847.10,211.16 h-6.00 M847.10,175.93 h-3.00 M847.10,140.70 h-6.00 M847.10,493.00 v6.00 M990.00,493.00 v3.00 M1132.90,493.00 v6.00 M1275.80,493.00 v3.00 M1418.70,493.00 v6.00 "/>
</g>
<g font-size="16px" fill="#000">
<text x="837.30" y="498.73" text-anchor="end">0.0</text>
<text x="837.30" y="428.27" text-anchor="end">0.2</text>
<text x="837.30" y="357.81" text-anchor="end">0.4</text>
<text x="837.30" y="287.35" text-anchor="end">0.6</text>
<text x="837.30" y="216.89" text-anchor="end">0.8</text>
<text x="837.30" y="146.43" text-anchor="end">1.0</text>
<text x="847.10" y="515.00" text-anchor="middle">-0.4</text>
<text x="1132.90" y="515.00" text-anchor="middle">0.0</text>
<text x="1418.70" y="515.00" text-anchor="middle">0.4</text>
</g>
<text x="1132.90" y="127.6" font-size="32px" text-anchor="middle">austra</text>
<text x="1132.90" y="551.8" font-size="32.7px" text-anchor="middle">margin</text>
<text transform="translate(766.20,338.00) rotate(-90)" font-size="32.5px" text-anchor="middle">cumulative frequency</text>
<g stroke="#000" stroke-width="1.45" fill="none" stroke-linecap="butt">
<path d="M847.10,639.07 V992.83 M846.38,992.10 H1419.42"/>
<path d="M847.10,992.10 h-6.00 M847.10,956.87 h-3.00 M847.10,921.64 h-6.00 M847.10,886.41 h-3.00 M847.10,851.18 h-6.00 M847.10,815.95 h-3.00 M847.10,780.72 h-6.00 M847.10,745.49 h-3.00 M847.10,710.26 h-6.00 M847.10,675.03 h-3.00 M847.10,639.80 h-6.00 M847.10,992.10 v3.00 M910.61,992.10 v6.00 M974.12,992.10 v3.00 M1037.63,992.10 v6.00 M1101.14,992.10 v3.00 M1164.66,992.10 v6.00 M1228.17,992.10 v3.00 M1291.68,992.10 v6.00 M1355.19,992.10 v3.00 M1418.70,992.10 v6.00 "/>
</g>
<g font-size="16px" fill="#000">
<text x="837.30" y="997.83" text-anchor="end">0.0</text>
<text x="837.30" y="927.37" text-anchor="end">0.2</text>
<text x="837.30" y="856.91" text-anchor="end">0.4</text>
<text x="837.30" y="786.45" text-anchor="end">0.6</text>
<text x="837.30" y="715.99" text-anchor="end">0.8</text>
<text x="837.30" y="645.53" text-anchor="end">1.0</text>
<text x="910.61" y="1014.10" text-anchor="middle">-0.4</text>
<text x="1037.63" y="1014.10" text-anchor="middle">0.0</text>
<text x="1164.66" y="1014.10" text-anchor="middle">0.4</text>
<text x="1291.68" y="1014.10" text-anchor="middle">0.8</text>
<text x="1418.70" y="1014.10" text-anchor="middle">1.2</text>
</g>
<text x="1132.90" y="624.4" font-size="30.5px" text-anchor="middle">german</text>
<text x="1132.90" y="1050.9" font-size="32.7px" text-anchor="middle">margin</text>
<text transform="translate(766.20,837.10) rotate(-90)" font-size="32.5px" text-anchor="middle">cumulative frequency</text>
</svg>
</body></html>
